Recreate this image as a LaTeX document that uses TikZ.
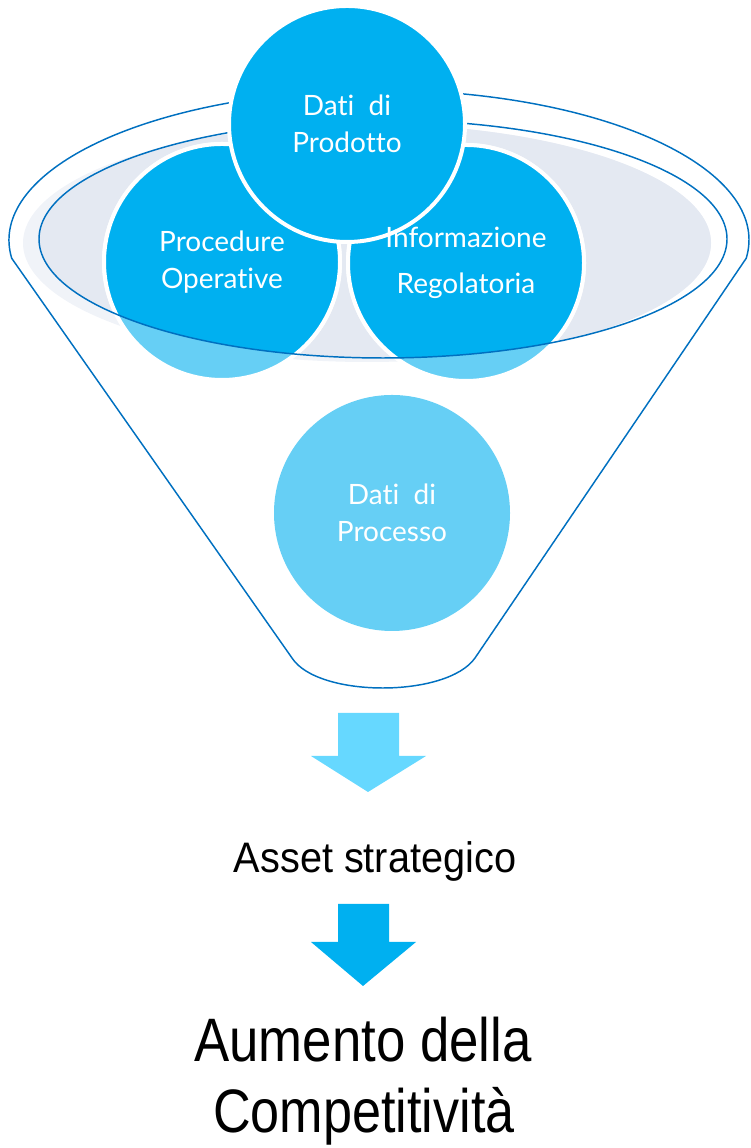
\documentclass[tikz,border=0pt]{standalone}
\usepackage{fontspec}
\setmainfont{Liberation Sans}
\newfontfamily\bollafont[Ligatures={NoCommon,NoContextual}]{Lato}
\definecolor{azzurro}{HTML}{00B0F0}
\definecolor{celeste}{HTML}{66CFF5}
\definecolor{freccia}{HTML}{66D8FF}
\definecolor{bordo}{HTML}{0070C0}
\definecolor{ombra}{HTML}{E4E9F2}
\definecolor{ombrachiara}{HTML}{F0F3F8}
\tikzset{
  bolla/.style={circle,minimum size=177pt,inner sep=0pt,draw=white,line width=3pt},
  testo/.style={text=white,align=center,font=\bollafont\fontsize{21}{28}\selectfont},
  imbuto/.style={draw=bordo,line width=1.1pt}
}
\begin{document}
\begin{tikzpicture}[x=0.75pt,y=0.75pt]
\useasboundingbox (0,0) rectangle (750,1148);

% ombra della bocca
\fill[ombrachiara] (367,905) ellipse [x radius=344,y radius=119];
\begin{scope}
  \clip (383,909) ellipse [x radius=344,y radius=119];
  \fill[ombra] (367,905) ellipse [x radius=344,y radius=119];
\end{scope}

% imbuto
\draw[imbuto] (746.2,889.7) arc (-7:187:370 and 150)
  -- (292,490) .. controls (318,450) and (447,450) .. (475,490) -- cycle;

% cerchi nella bocca
\node[bolla,fill=celeste] (procedure) at (222,886) {};
\node[bolla,fill=celeste] (informazione) at (466,885) {};
\begin{scope}
  \clip (383,909) ellipse [x radius=344,y radius=119];
  \filldraw[azzurro,draw=white,line width=3pt] (procedure.center) circle (118);
  \filldraw[azzurro,draw=white,line width=3pt] (informazione.center) circle (118);
\end{scope}
\draw[imbuto] (383,909) ellipse [x radius=344,y radius=119]; % bocca

\node[bolla,fill=azzurro] (prodotto) at (347,1024) {};
\node[bolla,fill=celeste,draw=none] (processo) at (392,635) {};

% testi
\node[testo] at (prodotto) {Dati\ \ di\\Prodotto};
\node[testo] at (procedure) {Procedure\\Operative};
\node[testo] at (informazione) {Informazione\\[6pt]Regolatoria};
\node[testo] at (processo) {Dati\ \ di\\Processo};

% frecce
\fill[freccia] (338,435) -- (399,435) -- (399,392) -- (426,392)
  -- (368,356) -- (311,392) -- (338,392) -- cycle;
\node[anchor=base,font=\fontsize{32}{38}\selectfont] (asset) at (375,275)
  {\scalebox{0.93}[1]{Asset strategico}};
\fill[azzurro] (338,244) -- (389,244) -- (389,206) -- (416,206)
  -- (363,162) -- (311,206) -- (338,206) -- cycle;
\node[anchor=base,font=\fontsize{46}{52}\selectfont] (aumento) at (363,86)
  {\scalebox{0.86}[1]{Aumento della}};
\node[anchor=base,font=\fontsize{46}{52}\selectfont] (competitivita) at (364,16)
  {\scalebox{0.85}[1]{Competitività}};
\end{tikzpicture}
\end{document}
